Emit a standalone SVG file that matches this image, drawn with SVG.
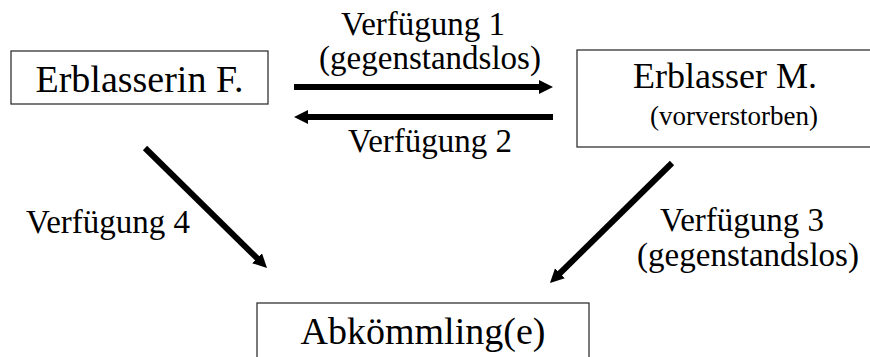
<svg xmlns="http://www.w3.org/2000/svg" width="870" height="357" viewBox="0 0 870 357">
<style>
.box{fill:#fff;stroke:#333;stroke-width:1.3}
text{font-family:"Liberation Serif","Times New Roman",serif;fill:#000;text-anchor:middle}
.node{font-size:38px}
.sub{font-size:27px}
.lbl{font-size:33px}
.conn{stroke:#000;stroke-width:6;fill:none;marker-end:url(#ah)}
</style>
<defs>
<marker id="ah" markerUnits="userSpaceOnUse" markerWidth="15" markerHeight="15" refX="4" refY="7" orient="auto">
<path d="M0,0 L14,7 L0,14 z" fill="#000"/>
</marker>
</defs>
<rect width="870" height="357" fill="#fff"/>
<g id="erblasserin">
<rect class="box" x="11" y="51" width="257" height="53"/>
<text class="node" x="139.5" y="92">Erblasserin F.</text>
</g>
<g id="erblasser">
<rect class="box" x="577" y="50" width="300" height="97"/>
<text class="node" x="725" y="88" style="font-size:36px">Erblasser M.</text>
<text class="sub" x="734" y="125">(vorverstorben)</text>
</g>
<g id="abkoemmling">
<rect class="box" x="257" y="303" width="332" height="60"/>
<text class="node" x="423" y="344">Abkömmling(e)</text>
</g>
<g id="connectors">
<line class="conn" x1="294" y1="87" x2="543" y2="87"/>
<line class="conn" x1="553" y1="117" x2="304" y2="117"/>
<line class="conn" x1="145" y1="148" x2="259.9" y2="261"/>
<line class="conn" x1="672" y1="163" x2="557.1" y2="276"/>
</g>
<g id="labels">
<text class="lbl" x="423" y="35">Verfügung 1</text>
<text class="lbl" x="430" y="69">(gegenstandslos)</text>
<text class="lbl" x="430" y="152">Verfügung 2</text>
<text class="lbl" x="108" y="233">Verfügung 4</text>
<text class="lbl" x="742" y="231">Verfügung 3</text>
<text class="lbl" x="748" y="266">(gegenstandslos)</text>
</g>
</svg>
